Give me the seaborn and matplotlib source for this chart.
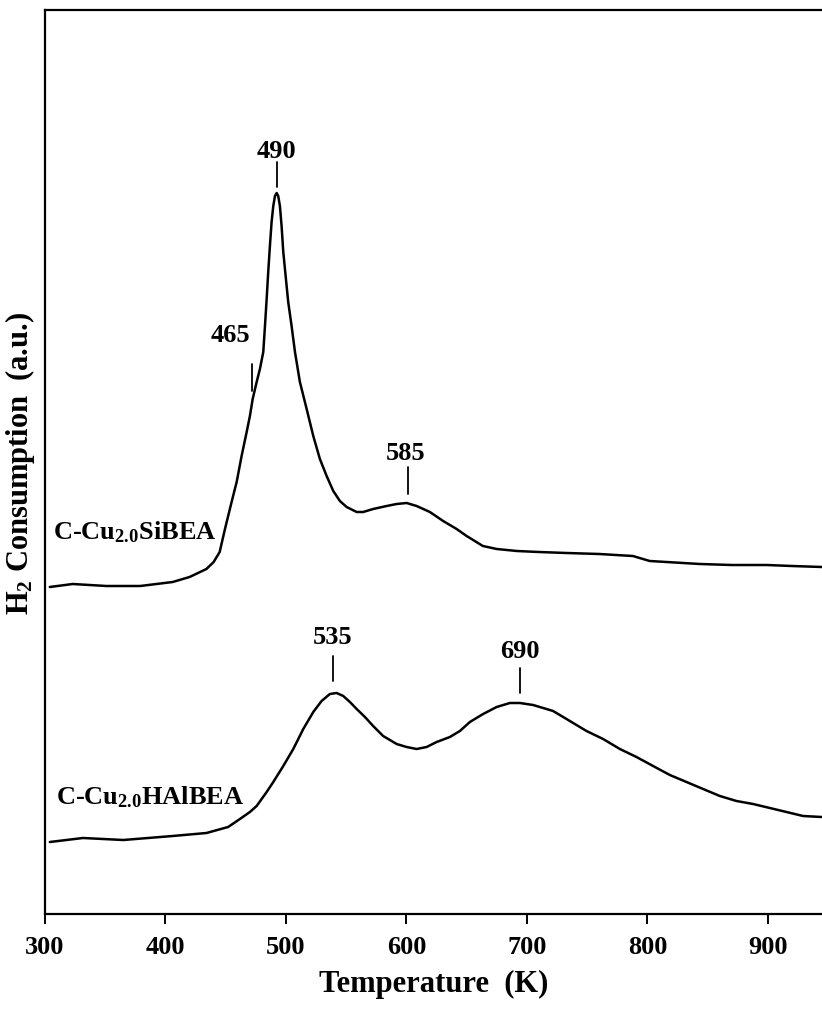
import matplotlib
matplotlib.use("Agg")
import matplotlib.pyplot as plt
import seaborn as sns
import pandas as pd

# ---- data (arbitrary intensity units) ----
temp_si = [304, 323, 351, 379, 406, 420, 434, 440, 445, 449.4, 454.9, 459.1,
           463.2, 467.4, 470.1, 472.4, 475.7, 478.4, 481.2, 482.6, 484.0, 485.3,
           486.7, 488.1, 489.5, 490.9, 492.3, 493.6, 495.0, 496.4, 497.8, 500.0,
           501.9, 504.7, 507.5, 511.6, 517.2, 522.7, 528.2, 533.8, 539.3, 544.8,
           550.4, 558.7, 564.1, 572.4, 583.6, 591.9, 600.2, 608.5, 619.5, 630.5,
           641.7, 650.0, 663.5, 675, 691.7, 710, 733, 760, 788, 802, 843.6, 870,
           899, 920, 945]
h2_si = [327, 330, 328, 328, 332, 337, 345, 352, 362, 385, 412, 432,
         458, 482, 498, 515, 532, 545, 562, 588, 615, 642,
         668, 692, 708, 718, 721, 718, 708, 688, 662, 635,
         612, 588, 562, 532, 505, 478, 455, 438, 423, 413,
         407, 402, 402, 405, 408, 410, 411, 408, 402, 393,
         385, 378, 368, 365, 363, 362, 361, 360, 358, 353, 350, 349,
         349, 348, 347]

temp_al = [304, 331.5, 365, 406, 434, 452, 461.8, 470.1, 475.7, 484.0, 489.5,
           497.8, 506.1, 514.4, 522.7, 529.6, 536.5, 542.1, 547.6, 553.1, 558.7,
           565.6, 572.4, 580.7, 591.9, 600.2, 608.5, 616.8, 625.1, 636.1, 644.4,
           652.7, 663.7, 674.9, 685.9, 694.2, 705.2, 721.8, 735.7, 749.5, 763.3,
           777.2, 791.0, 804.8, 818.7, 832.5, 846.3, 860.2, 874.0, 887.8, 901.7,
           915.5, 929.3, 944.6]
h2_al = [72, 76, 74, 78, 81, 87, 95, 102, 108, 122, 132,
         148, 165, 185, 202, 213, 220, 221, 218, 212, 205,
         197, 188, 178, 170, 167, 165, 167, 172, 177, 183,
         192, 200, 207, 211, 211, 209, 203, 193, 183, 175,
         165, 157, 148, 139, 132, 125, 118, 113, 110, 106,
         102, 98, 97]

sample_names = ["C-Cu$_{2.0}$SiBEA", "C-Cu$_{2.0}$HAlBEA"]
peak_labels = ["490", "465", "585", "535", "690"]
peak_temps = [492.5, 471.8, 601, 539, 694]
x_ticks = [300, 400, 500, 600, 700, 800, 900]

# ---- style ----
sns.set_theme(style="white")
plt.rcParams["font.family"] = ["Liberation Serif", "DejaVu Serif"]
plt.rcParams["font.weight"] = "bold"
plt.rcParams["text.color"] = "black"
plt.rcParams["axes.labelcolor"] = "black"
plt.rcParams["xtick.color"] = "black"
plt.rcParams["mathtext.fontset"] = "custom"
plt.rcParams["mathtext.rm"] = "Liberation Serif:bold"
plt.rcParams["mathtext.it"] = "Liberation Serif:bold"
plt.rcParams["mathtext.bf"] = "Liberation Serif:bold"

fig = plt.figure(figsize=(8.22, 10.12), dpi=100)
ax = fig.add_axes([45 / 822, 97 / 1012, 777 / 822, 904 / 1012])

df_si = pd.DataFrame({"T": temp_si, "H2": h2_si})
df_al = pd.DataFrame({"T": temp_al, "H2": h2_al})
sns.lineplot(data=df_si, x="T", y="H2", ax=ax, color="black", linewidth=1.8,
             estimator=None, sort=False)
sns.lineplot(data=df_al, x="T", y="H2", ax=ax, color="black", linewidth=1.8,
             estimator=None, sort=False)

ax.set_xlim(300, 945)
ax.set_ylim(0, 904)
ax.set_xticks(x_ticks)
ax.set_xticklabels([str(t) for t in x_ticks])
ax.set_yticks([])

for side in ["left", "bottom", "top"]:
    ax.spines[side].set_visible(True)
    ax.spines[side].set_color("black")
    ax.spines[side].set_linewidth(1.6)
ax.spines["right"].set_visible(False)

ax.tick_params(axis="x", direction="out", length=7, width=1.4, color="black",
               labelcolor="black", labelsize=19, pad=8, bottom=True)
for lab in ax.get_xticklabels():
    lab.set_fontweight("bold")

ax.set_xlabel("Temperature  (K)", fontsize=22, fontweight="bold", labelpad=8,
              color="black")
ax.set_ylabel("H$_2$ Consumption  (a.u.)", fontsize=22, fontweight="bold",
              labelpad=6, color="black")

# peak markers
label_y = [764, 580, 462, 277, 263]
line_lo = [727, 523, 420, 233, 221]
line_hi = [752, 550, 447, 258, 246]
label_x = [492.5, 454, 599, 539, 694]
for txt, tx, lx, ly, lo, hi in zip(peak_labels, peak_temps, label_x, label_y,
                                    line_lo, line_hi):
    ax.plot([tx, tx], [lo, hi], color="black", linewidth=1.3)
    ax.text(lx, ly, txt, fontsize=19, fontweight="bold", ha="center",
            va="center", color="black")

ax.text(307, 383, sample_names[0], fontsize=19, fontweight="bold",
        ha="left", va="center", color="black")
ax.text(309, 118, sample_names[1], fontsize=19, fontweight="bold",
        ha="left", va="center", color="black")

fig.savefig("out.png", dpi=100, facecolor="white")
